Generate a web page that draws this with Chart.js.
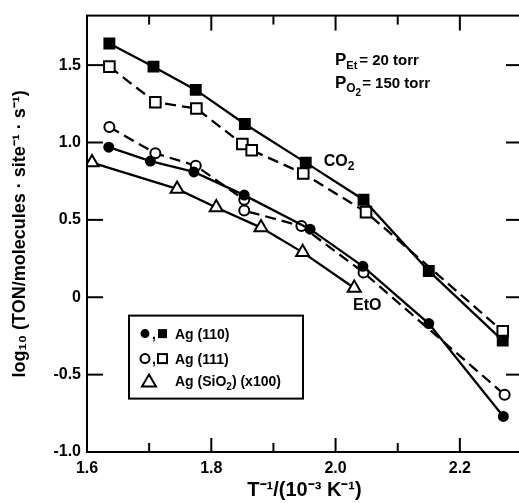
<!DOCTYPE html>
<html>
<head>
<meta charset="utf-8">
<script src="https://cdn.jsdelivr.net/npm/chart.js@4"></script>
<style>
html, body { margin: 0; padding: 0; overflow: hidden; background: #fff; }
canvas { display: block; }
</style>
</head>
<body>
<canvas id="myChart" width="522" height="503" style="width:522px;height:503px"></canvas>
<script>
var FONT = '"Liberation Sans", Arial, sans-serif';

// axis ticks
var xTicks = [1.6, 1.8, 2.0, 2.2];
var xMinorTicks = [1.7, 1.9, 2.1];
var yTicks = [-1.0, -0.5, 0, 0.5, 1.0, 1.5];
var yTickLabels = ['-1.0', '-0.5', '0', '0.5', '1.0', '1.5'];

// Ag(110), CO2 - filled squares
var ag110CO2X = [1.636, 1.707, 1.775, 1.854, 1.952, 2.045, 2.150, 2.269];
var ag110CO2Y = [1.64, 1.49, 1.34, 1.12, 0.87, 0.63, 0.17, -0.28];
// Ag(111), CO2 - open squares
var ag111CO2X = [1.636, 1.710, 1.776, 1.850, 1.865, 1.948, 2.049, 2.269];
var ag111CO2Y = [1.49, 1.26, 1.22, 0.99, 0.95, 0.80, 0.55, -0.22];
// Ag(110), EtO - filled circles
var ag110EtOX = [1.635, 1.702, 1.772, 1.853, 1.959, 2.044, 2.150, 2.270];
var ag110EtOY = [0.97, 0.88, 0.81, 0.66, 0.44, 0.20, -0.17, -0.77];
// Ag(111), EtO - open circles
var ag111EtOX = [1.636, 1.710, 1.775, 1.853, 1.853, 1.945, 2.045, 2.272];
var ag111EtOY = [1.10, 0.93, 0.85, 0.63, 0.56, 0.46, 0.16, -0.63];
// Ag(SiO2) x100, EtO - open triangles
var agSiO2X = [1.608, 1.745, 1.808, 1.880, 1.947, 2.030];
var agSiO2Y = [0.87, 0.70, 0.58, 0.45, 0.29, 0.06];

function pts(xs, ys) {
    return xs.map(function (x, i) { return { x: x, y: ys[i] }; });
}

function series(xs, ys, style, radius, fill, dashed) {
    return {
        data: pts(xs, ys),
        showLine: true,
        borderColor: '#000',
        borderWidth: 2.3,
        borderDash: dashed ? [11, 6] : [],
        tension: 0,
        pointStyle: style,
        pointRadius: radius,
        pointBackgroundColor: fill,
        pointBorderColor: '#000',
        pointBorderWidth: 2
    };
}

// draws text pieces with sub/superscripts
function drawRuns(ctx, x, y, runs) {
    ctx.textBaseline = 'alphabetic';
    ctx.textAlign = 'left';
    runs.forEach(function (r) {
        ctx.font = 'bold ' + r.s + 'px ' + FONT;
        ctx.fillText(r.t, x, y + (r.dy || 0));
        x += ctx.measureText(r.t).width + (r.gap || 0);
    });
}

var frameAndNotes = {
    id: 'frameAndNotes',
    afterDraw: function (chart) {
        var ctx = chart.ctx, a = chart.chartArea;
        var xs = chart.scales.x, ys = chart.scales.y;
        ctx.save();
        ctx.strokeStyle = '#000';
        ctx.fillStyle = '#000';
        ctx.lineWidth = 2;
        ctx.strokeRect(a.left, a.top, a.right - a.left, a.bottom - a.top);

        function seg(x1, y1, x2, y2) {
            ctx.beginPath(); ctx.moveTo(x1, y1); ctx.lineTo(x2, y2); ctx.stroke();
        }
        // inward ticks
        xTicks.forEach(function (v) {
            var p = xs.getPixelForValue(v);
            seg(p, a.bottom, p, a.bottom - 14);
            seg(p, a.top, p, a.top + 15);
        });
        xMinorTicks.forEach(function (v) {
            var p = xs.getPixelForValue(v);
            seg(p, a.bottom, p, a.bottom - 9);
            seg(p, a.top, p, a.top + 9);
        });
        yTicks.forEach(function (v) {
            var p = ys.getPixelForValue(v);
            seg(a.left, p, a.left + 16, p);
            seg(a.right, p, a.right - 16, p);
        });

        // notes
        var px = xs.getPixelForValue(1.999);
        drawRuns(ctx, px, ys.getPixelForValue(1.50), [
            { t: 'P', s: 17 }, { t: 'Et', s: 11, dy: 4, gap: 2 }, { t: '= 20 torr', s: 15 }
        ]);
        drawRuns(ctx, px, ys.getPixelForValue(1.355), [
            { t: 'P', s: 17 }, { t: 'O', s: 12, dy: 4 }, { t: '2', s: 10, dy: 8, gap: 1 }, { t: '= 150 torr', s: 15 }
        ]);
        drawRuns(ctx, xs.getPixelForValue(1.981), ys.getPixelForValue(0.85), [
            { t: 'CO', s: 16 }, { t: '2', s: 12, dy: 4 }
        ]);
        drawRuns(ctx, xs.getPixelForValue(2.028), ys.getPixelForValue(-0.085), [
            { t: 'EtO', s: 16 }
        ]);

        // legend box
        var bx = a.left + 42, by = a.top + 300;
        ctx.lineWidth = 2;
        ctx.strokeRect(bx, by, 174, 83);
        var rows = [by + 18, by + 43, by + 65];
        // row 1
        ctx.beginPath(); ctx.arc(bx + 16, rows[0], 4.5, 0, Math.PI * 2); ctx.fill();
        ctx.fillRect(bx + 29, rows[0] - 4.5, 9, 9);
        // row 2
        ctx.beginPath(); ctx.arc(bx + 16, rows[1], 4.5, 0, Math.PI * 2); ctx.stroke();
        ctx.strokeRect(bx + 29, rows[1] - 4.5, 9, 9);
        ctx.font = 'bold 14px ' + FONT;
        ctx.textBaseline = 'alphabetic';
        ctx.fillText(',', bx + 23, rows[0] + 5);
        ctx.fillText(',', bx + 23, rows[1] + 5);
        // row 3 triangle
        ctx.beginPath();
        ctx.moveTo(bx + 20, rows[2] - 6);
        ctx.lineTo(bx + 27, rows[2] + 6);
        ctx.lineTo(bx + 13, rows[2] + 6);
        ctx.closePath(); ctx.stroke();

        drawRuns(ctx, bx + 46, rows[0] + 5, [{ t: 'Ag (110)', s: 14 }]);
        drawRuns(ctx, bx + 46, rows[1] + 5, [{ t: 'Ag (111)', s: 14 }]);
        drawRuns(ctx, bx + 46, rows[2] + 5, [
            { t: 'Ag (SiO', s: 14 }, { t: '2', s: 10, dy: 4 }, { t: ') (x100)', s: 14 }
        ]);
        ctx.restore();
    }
};

var element = document.getElementById('myChart').getContext('2d');

var chartData = {
    datasets: [
        series(ag110CO2X, ag110CO2Y, 'rect', 7, '#000', false),
        series(ag111CO2X, ag111CO2Y, 'rect', 7.5, '#fff', true),
        series(ag110EtOX, ag110EtOY, 'circle', 4.5, '#000', false),
        series(ag111EtOX, ag111EtOY, 'circle', 5, '#fff', true),
        series(agSiO2X, agSiO2Y, 'triangle', 7.5, '#fff', false)
    ]
};

var chartOptions = {
    responsive: false,
    animation: false,
    layout: { autoPadding: false, padding: { top: 13, right: 0, bottom: 0, left: 0 } },
    plugins: { legend: { display: false }, tooltip: { enabled: false } },
    scales: {
        x: {
            type: 'linear', min: 1.6, max: 2.3,
            afterBuildTicks: function (s) { s.ticks = xTicks.map(function (v) { return { value: v }; }); },
            afterFit: function (s) { s.height = 51; },
            grid: { display: false, drawTicks: false },
            border: { display: false },
            ticks: {
                padding: 7, color: '#000', maxRotation: 0,
                font: { family: FONT, size: 16, weight: 'bold' },
                callback: function (v) { return v.toFixed(1); }
            },
            title: {
                display: true, text: 'T\u207B\u00B9/(10\u207B\u00B3 K\u207B\u00B9)', color: '#000',
                font: { family: FONT, size: 20, weight: 'bold' },
                padding: { top: 0, bottom: 1 }
            }
        },
        y: {
            type: 'linear', min: -1.0, max: 1.82,
            afterBuildTicks: function (s) { s.ticks = yTicks.map(function (v) { return { value: v }; }); },
            afterFit: function (s) { s.width = 87; },
            grid: { display: false, drawTicks: false },
            border: { display: false },
            ticks: {
                padding: 6, color: '#000',
                font: { family: FONT, size: 16, weight: 'bold' },
                callback: function (v) { return yTickLabels[yTicks.indexOf(v)]; }
            },
            title: {
                display: true, text: 'log\u2081\u2080 (TON/molecules \u00B7 site\u207B\u00B9 \u00B7 s\u207B\u00B9)', color: '#000',
                font: { family: FONT, size: 18, weight: 'bold' },
                padding: { top: 9, bottom: 0 }
            }
        }
    }
};

var chart = new Chart(element, { type: 'scatter', data: chartData, options: chartOptions, plugins: [frameAndNotes] });
</script>
</body>
</html>
